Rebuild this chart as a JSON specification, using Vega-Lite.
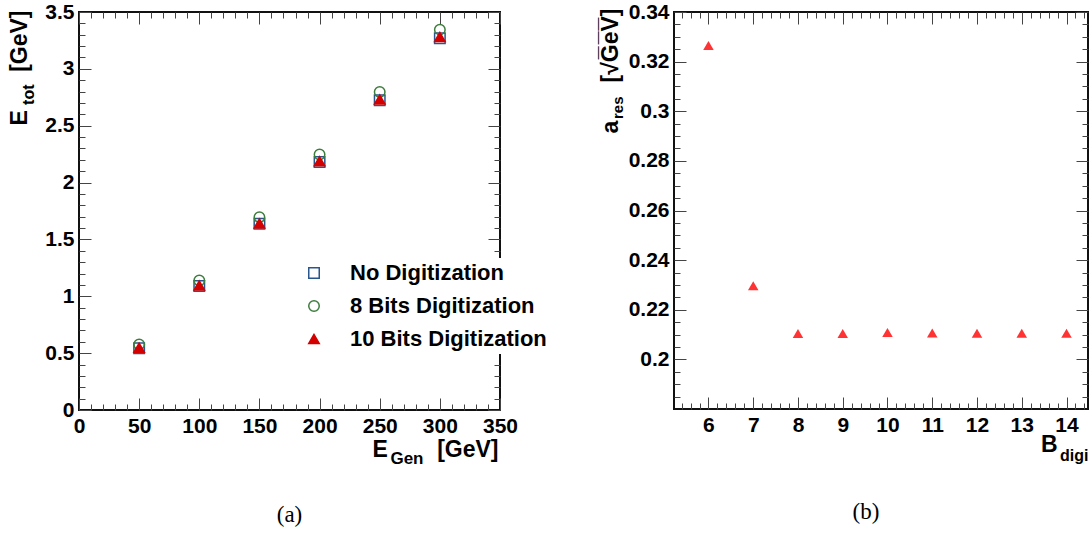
{
  "$schema": "https://vega.github.io/schema/vega-lite/v6.json",
  "background": "white",
  "padding": {"left": 6, "top": 0, "right": 0, "bottom": 0},
  "config": {
    "view": {"stroke": "#111", "strokeWidth": 2},
    "axis": {
      "domain": false, "grid": false,
      "labelFont": "Liberation Sans", "labelFontWeight": "bold", "labelFontSize": 21, "labelColor": "black",
      "labelFlush": false, "labelOverlap": false, "labelBound": false,
      "tickColor": "#444", "tickWidth": 1,
      "titleFont": "Liberation Sans", "titleFontWeight": "bold", "titleColor": "black"
    },
    "title": {"font": "Liberation Serif", "fontWeight": "normal", "fontSize": 23, "color": "black", "frame": "group", "anchor": "middle"}
  },
  "spacing": 78,
  "hconcat": [
    {
      "width": 421, "height": 398,
      "title": {"text": "(a)", "orient": "bottom", "offset": 38},
      "data": {"values": [
        {"series": "No Digitization", "egen": 50, "etot": 0.542},
        {"series": "No Digitization", "egen": 100, "etot": 1.09},
        {"series": "No Digitization", "egen": 150, "etot": 1.637},
        {"series": "No Digitization", "egen": 200, "etot": 2.18},
        {"series": "No Digitization", "egen": 250, "etot": 2.724},
        {"series": "No Digitization", "egen": 300, "etot": 3.27},
        {"series": "8 Bits Digitization", "egen": 50, "etot": 0.577},
        {"series": "8 Bits Digitization", "egen": 100, "etot": 1.139},
        {"series": "8 Bits Digitization", "egen": 150, "etot": 1.696},
        {"series": "8 Bits Digitization", "egen": 200, "etot": 2.247},
        {"series": "8 Bits Digitization", "egen": 250, "etot": 2.797},
        {"series": "8 Bits Digitization", "egen": 300, "etot": 3.345},
        {"series": "10 Bits Digitization", "egen": 50, "etot": 0.548},
        {"series": "10 Bits Digitization", "egen": 100, "etot": 1.095},
        {"series": "10 Bits Digitization", "egen": 150, "etot": 1.64},
        {"series": "10 Bits Digitization", "egen": 200, "etot": 2.188},
        {"series": "10 Bits Digitization", "egen": 250, "etot": 2.73},
        {"series": "10 Bits Digitization", "egen": 300, "etot": 3.28}
      ]},
      "layer": [
        {
          "mark": {"type": "point", "filled": true, "opacity": 1, "strokeWidth": 1.5, "size": 110},
          "encoding": {
            "x": {"field": "egen", "type": "quantitative",
              "scale": {"domain": [0, 350], "nice": false, "zero": false},
              "axis": {
                "orient": "bottom",
                "values": [0,10,20,30,40,50,60,70,80,90,100,110,120,130,140,150,160,170,180,190,200,210,220,230,240,250,260,270,280,290,300,310,320,330,340,350],
                "tickSize": {"condition": {"test": "datum.value % 50 === 0", "value": -12}, "value": -6},
                "labelExpr": "datum.value % 50 === 0 ? format(datum.value, '~g') : ''",
                "labelPadding": 17,
                "title": "E\u00a0\u00a0\u00a0\u00a0\u00a0\u00a0\u00a0\u2009[GeV]", "titleFontSize": 23,
                "titleX": 419, "titleY": 46, "titleAlign": "right", "titleBaseline": "alphabetic", "titleAngle": 0
              }
            },
            "y": {"field": "etot", "type": "quantitative",
              "scale": {"domain": [0, 3.5], "nice": false, "zero": false},
              "axis": {
                "orient": "left",
                "values": [0,0.1,0.2,0.3,0.4,0.5,0.6,0.7,0.8,0.9,1,1.1,1.2,1.3,1.4,1.5,1.6,1.7,1.8,1.9,2,2.1,2.2,2.3,2.4,2.5,2.6,2.7,2.8,2.9,3,3.1,3.2,3.3,3.4,3.5],
                "tickSize": {"condition": {"test": "abs(datum.value*2 - round(datum.value*2)) < 1e-6", "value": -12}, "value": -6},
                "labelExpr": "abs(datum.value*2 - round(datum.value*2)) < 1e-6 ? format(datum.value, '~g') : ''",
                "labelPadding": 17,
                "title": "E\u00a0\u00a0\u00a0\u00a0\u00a0\u00a0[GeV]", "titleFontSize": 23,
                "titleX": -53, "titleY": -2, "titleAlign": "right", "titleBaseline": "alphabetic", "titleAngle": -90
              }
            },
            "shape": {"field": "series", "type": "nominal",
              "scale": {"domain": ["No Digitization", "8 Bits Digitization", "10 Bits Digitization"], "range": ["square", "circle", "triangle-up"]},
              "legend": {"orient": "none", "legendX": 220, "legendY": 246, "title": null, "fillColor": "white", "padding": 4,
                "labelFont": "Liberation Sans", "labelFontWeight": "bold", "labelFontSize": 22, "labelColor": "black",
                "labelOffset": 25, "rowPadding": 11, "symbolSize": 110, "symbolStrokeWidth": 1.5, "labelLimit": 400}
            },
            "stroke": {"field": "series", "type": "nominal",
              "scale": {"domain": ["No Digitization", "8 Bits Digitization", "10 Bits Digitization"], "range": ["#2a568e", "#3d7d3d", "#d40000"]},
              "legend": {"orient": "none", "legendX": 220, "legendY": 246, "title": null, "fillColor": "white", "padding": 4,
                "labelFont": "Liberation Sans", "labelFontWeight": "bold", "labelFontSize": 22, "labelColor": "black",
                "labelOffset": 25, "rowPadding": 11, "symbolSize": 110, "symbolStrokeWidth": 1.5, "labelLimit": 400}
            },
            "fill": {"field": "series", "type": "nominal",
              "scale": {"domain": ["No Digitization", "8 Bits Digitization", "10 Bits Digitization"], "range": ["transparent", "transparent", "#d40000"]},
              "legend": {"orient": "none", "legendX": 220, "legendY": 246, "title": null, "fillColor": "white", "padding": 4,
                "labelFont": "Liberation Sans", "labelFontWeight": "bold", "labelFontSize": 22, "labelColor": "black",
                "labelOffset": 25, "rowPadding": 11, "symbolSize": 110, "symbolStrokeWidth": 1.5, "labelLimit": 400}
            }
          }
        },
        {
          "mark": {"type": "point", "opacity": 0},
          "encoding": {
            "x": {"field": "egen", "type": "quantitative",
              "axis": {
                "orient": "top",
                "values": [0,10,20,30,40,50,60,70,80,90,100,110,120,130,140,150,160,170,180,190,200,210,220,230,240,250,260,270,280,290,300,310,320,330,340,350],
                "tickSize": {"condition": {"test": "datum.value % 50 === 0", "value": -12}, "value": -6},
                "labels": false,
                "title": "Gen", "titleFontSize": 17,
                "titleX": 344, "titleY": 451, "titleAlign": "right", "titleBaseline": "alphabetic", "titleAngle": 0
              }
            },
            "y": {"field": "etot", "type": "quantitative",
              "axis": {
                "orient": "right",
                "values": [0,0.1,0.2,0.3,0.4,0.5,0.6,0.7,0.8,0.9,1,1.1,1.2,1.3,1.4,1.5,1.6,1.7,1.8,1.9,2,2.1,2.2,2.3,2.4,2.5,2.6,2.7,2.8,2.9,3,3.1,3.2,3.3,3.4,3.5],
                "tickSize": {"condition": {"test": "abs(datum.value*2 - round(datum.value*2)) < 1e-6", "value": -12}, "value": -6},
                "labels": false,
                "title": "tot", "titleFontSize": 16,
                "titleX": -467, "titleY": 72, "titleAlign": "right", "titleBaseline": "alphabetic", "titleAngle": -90
              }
            }
          }
        }
      ],
      "resolve": {"axis": {"x": "independent", "y": "independent"}}
    },
    {
      "width": 414, "height": 397,
      "title": {"text": "(b)", "orient": "bottom", "offset": 38, "dx": -15},
      "data": {"values": [
        {"bdigi": 6, "ares": 0.3265},
        {"bdigi": 7, "ares": 0.2297},
        {"bdigi": 8, "ares": 0.2104},
        {"bdigi": 9, "ares": 0.2104},
        {"bdigi": 10, "ares": 0.2108},
        {"bdigi": 11, "ares": 0.2106},
        {"bdigi": 12, "ares": 0.2105},
        {"bdigi": 13, "ares": 0.2105},
        {"bdigi": 14, "ares": 0.2105}
      ]},
      "layer": [
        {
          "mark": {"type": "point", "shape": "triangle-up", "filled": true, "opacity": 1, "color": "#ff3333", "size": 110},
          "encoding": {
            "x": {"field": "bdigi", "type": "quantitative",
              "scale": {"domain": [5.23, 14.48], "nice": false, "zero": false},
              "axis": {
                "orient": "bottom",
                "values": [5.4,5.6,5.8,6,6.2,6.4,6.6,6.8,7,7.2,7.4,7.6,7.8,8,8.2,8.4,8.6,8.8,9,9.2,9.4,9.6,9.8,10,10.2,10.4,10.6,10.8,11,11.2,11.4,11.6,11.8,12,12.2,12.4,12.6,12.8,13,13.2,13.4,13.6,13.8,14,14.2,14.4],
                "tickSize": {"condition": {"test": "abs(datum.value - round(datum.value)) < 1e-6", "value": -12}, "value": -6},
                "labelExpr": "abs(datum.value - round(datum.value)) < 1e-6 ? format(round(datum.value), '~g') : ''",
                "labelPadding": 17,
                "title": "B", "titleFontSize": 23,
                "titleX": 383, "titleY": 42, "titleAlign": "right", "titleBaseline": "alphabetic", "titleAngle": 0
              }
            },
            "y": {"field": "ares", "type": "quantitative",
              "scale": {"domain": [0.18, 0.34], "nice": false, "zero": false},
              "axis": {
                "orient": "left",
                "values": [0.185,0.19,0.195,0.2,0.205,0.21,0.215,0.22,0.225,0.23,0.235,0.24,0.245,0.25,0.255,0.26,0.265,0.27,0.275,0.28,0.285,0.29,0.295,0.3,0.305,0.31,0.315,0.32,0.325,0.33,0.335,0.34],
                "tickSize": {"condition": {"test": "abs(datum.value*50 - round(datum.value*50)) < 1e-6", "value": -12}, "value": -6},
                "labelExpr": "abs(datum.value*50 - round(datum.value*50)) < 1e-6 ? format(datum.value, '~g') : ''",
                "labelPadding": 17,
                "title": "a\u00a0\u00a0\u00a0\u00a0\u00a0\u00a0[\u221aG\u0305e\u0305V\u0305]", "titleFontSize": 23,
                "titleX": -57, "titleY": -4, "titleAlign": "right", "titleBaseline": "alphabetic", "titleAngle": -90
              }
            }
          }
        },
        {
          "mark": {"type": "point", "opacity": 0},
          "encoding": {
            "x": {"field": "bdigi", "type": "quantitative",
              "axis": {
                "orient": "top",
                "values": [5.4,5.6,5.8,6,6.2,6.4,6.6,6.8,7,7.2,7.4,7.6,7.8,8,8.2,8.4,8.6,8.8,9,9.2,9.4,9.6,9.8,10,10.2,10.4,10.6,10.8,11,11.2,11.4,11.6,11.8,12,12.2,12.4,12.6,12.8,13,13.2,13.4,13.6,13.8,14,14.2,14.4],
                "tickSize": {"condition": {"test": "abs(datum.value - round(datum.value)) < 1e-6", "value": -12}, "value": -6},
                "labels": false,
                "title": "digi", "titleFontSize": 16,
                "titleX": 414, "titleY": 448, "titleAlign": "right", "titleBaseline": "alphabetic", "titleAngle": 0
              }
            },
            "y": {"field": "ares", "type": "quantitative",
              "axis": {
                "orient": "right",
                "values": [0.185,0.19,0.195,0.2,0.205,0.21,0.215,0.22,0.225,0.23,0.235,0.24,0.245,0.25,0.255,0.26,0.265,0.27,0.275,0.28,0.285,0.29,0.295,0.3,0.305,0.31,0.315,0.32,0.325,0.33,0.335,0.34],
                "tickSize": {"condition": {"test": "abs(datum.value*50 - round(datum.value*50)) < 1e-6", "value": -12}, "value": -6},
                "labels": false,
                "title": "res", "titleFontSize": 15,
                "titleX": -466, "titleY": 84, "titleAlign": "right", "titleBaseline": "alphabetic", "titleAngle": -90
              }
            }
          }
        }
      ],
      "resolve": {"axis": {"x": "independent", "y": "independent"}}
    }
  ]
}
